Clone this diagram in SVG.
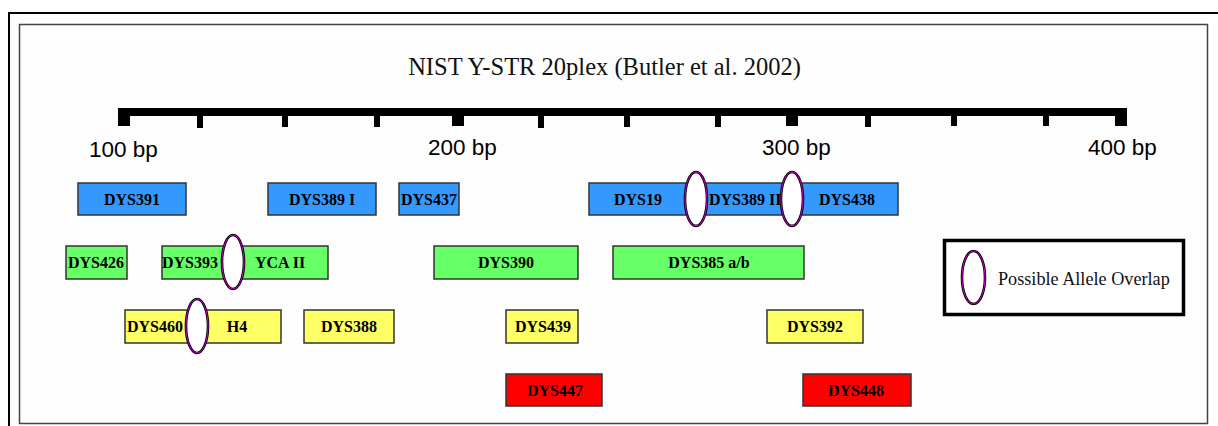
<svg xmlns="http://www.w3.org/2000/svg" width="1218" height="426" viewBox="0 0 1218 426">
<style>
.lbl{font-family:"Liberation Serif","Times New Roman",serif;font-weight:bold;font-size:16px;fill:#000;text-anchor:middle}
.lbls{font-family:"Liberation Serif","Times New Roman",serif;font-weight:bold;font-size:16px;fill:#000}
.bp{font-family:"Liberation Sans",Arial,sans-serif;font-size:22.5px;fill:#000}
.box{stroke:#333;stroke-width:1.5}
.blue{fill:#3399ff}.green{fill:#66ff66}.yellow{fill:#ffff66}.red{fill:#ff0000}
.ovo{fill:#fff;stroke:#000;stroke-width:2.6}
.ovi{fill:none;stroke:#cc00cc;stroke-width:1}
</style>
<rect width="1218" height="426" fill="#fff"/>
<rect x="9" y="13" width="1240" height="500" fill="none" stroke="#000" stroke-width="2"/>
<rect x="19.5" y="24.5" width="1188" height="399" fill="#fdfdfd" stroke="#444" stroke-width="1.5"/>
<text x="604.5" y="75" style="font-family:'Liberation Serif','Times New Roman',serif;font-size:24.5px;fill:#111" text-anchor="middle">NIST Y-STR 20plex (Butler et al. 2002)</text>
<g id="ruler" fill="#000">
<rect x="118" y="108" width="1009" height="8"/>
<rect x="118" y="108" width="12" height="18"/>
<rect x="452" y="108" width="12" height="18"/>
<rect x="786" y="108" width="12" height="18"/>
<rect x="1115" y="108" width="12" height="18"/>
<rect x="197" y="108" width="6" height="20"/>
<rect x="282" y="108" width="6" height="19"/>
<rect x="374" y="108" width="6" height="19"/>
<rect x="538" y="108" width="6" height="20"/>
<rect x="624" y="108" width="6" height="19"/>
<rect x="715" y="108" width="6" height="19"/>
<rect x="865" y="108" width="6" height="19"/>
<rect x="951" y="108" width="6" height="18"/>
<rect x="1043" y="108" width="6" height="18"/>
</g>
<g id="axis-labels">
<text class="bp" x="89" y="157">100 bp</text>
<text class="bp" x="428" y="155">200 bp</text>
<text class="bp" x="762" y="155">300 bp</text>
<text class="bp" x="1088" y="155">400 bp</text>
</g>
<g id="DYS391"><rect class="box blue" x="78" y="183" width="108" height="32"/><text class="lbl" x="132" y="205">DYS391</text></g>
<g id="DYS389I"><rect class="box blue" x="268" y="183" width="108" height="32"/><text class="lbl" x="322" y="205">DYS389 I</text></g>
<g id="DYS437"><rect class="box blue" x="399" y="183" width="60" height="32"/><text class="lbl" x="429" y="205">DYS437</text></g>
<g id="DYS19-DYS389II-DYS438"><rect class="box blue" x="589" y="183" width="309" height="32"/>
<text class="lbl" x="638" y="205">DYS19</text>
<text class="lbls" x="709" y="205">DYS389 II</text>
<text class="lbl" x="847" y="205">DYS438</text></g>
<g id="DYS426"><rect class="box green" x="66" y="246" width="61" height="33"/><text class="lbl" x="96" y="268">DYS426</text></g>
<g id="DYS393-YCAII"><rect class="box green" x="162" y="246" width="166" height="33"/>
<text class="lbls" x="162" y="268">DYS393</text>
<text class="lbl" x="280" y="268">YCA II</text></g>
<g id="DYS390"><rect class="box green" x="434" y="246" width="144" height="33"/><text class="lbl" x="506" y="268">DYS390</text></g>
<g id="DYS385"><rect class="box green" x="613" y="246" width="191" height="33"/><text class="lbl" x="709" y="268">DYS385 a/b</text></g>
<g id="DYS460-H4"><rect class="box yellow" x="125" y="310" width="156" height="33"/>
<text class="lbls" x="127" y="332">DYS460</text>
<text class="lbl" x="237" y="332">H4</text></g>
<g id="DYS388"><rect class="box yellow" x="304" y="310" width="90" height="33"/><text class="lbl" x="349" y="332">DYS388</text></g>
<g id="DYS439"><rect class="box yellow" x="506" y="310" width="72" height="33"/><text class="lbl" x="543" y="332">DYS439</text></g>
<g id="DYS392"><rect class="box yellow" x="767" y="310" width="96" height="33"/><text class="lbl" x="815" y="332">DYS392</text></g>
<g id="DYS447"><rect class="box red" x="506" y="374" width="96" height="32"/><text class="lbl" x="555" y="396">DYS447</text></g>
<g id="DYS448"><rect class="box red" x="803" y="374" width="108" height="32"/><text class="lbl" x="856" y="396">DYS448</text></g>
<g id="overlaps">
<ellipse class="ovo" cx="696" cy="199" rx="11" ry="27"/><ellipse class="ovi" cx="696" cy="199" rx="11" ry="27"/>
<ellipse class="ovo" cx="792" cy="199" rx="11" ry="27"/><ellipse class="ovi" cx="792" cy="199" rx="11" ry="27"/>
<ellipse class="ovo" cx="233" cy="262" rx="11" ry="27"/><ellipse class="ovi" cx="233" cy="262" rx="11" ry="27"/>
<ellipse class="ovo" cx="197" cy="326" rx="11" ry="27"/><ellipse class="ovi" cx="197" cy="326" rx="11" ry="27"/>
</g>
<g id="legend">
<rect x="944.5" y="240.5" width="239" height="74" fill="#fff" stroke="#000" stroke-width="3.5"/>
<ellipse class="ovo" cx="973.5" cy="277.5" rx="11.5" ry="26.5"/><ellipse class="ovi" cx="973.5" cy="277.5" rx="11.5" ry="26.5"/>
<text x="998" y="285" style="font-family:'Liberation Serif','Times New Roman',serif;font-size:18.2px;fill:#111">Possible Allele Overlap</text>
</g>
</svg>
